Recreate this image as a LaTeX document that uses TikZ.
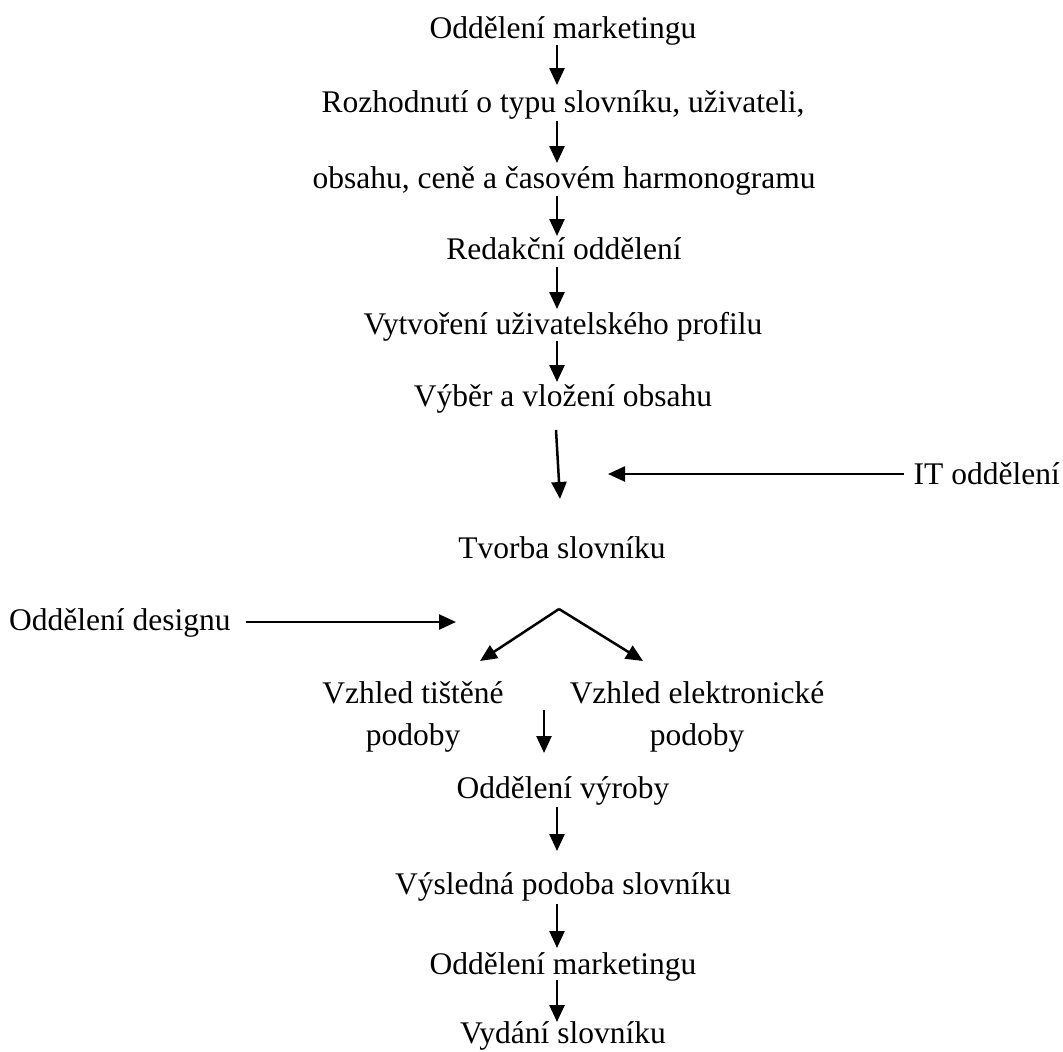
\documentclass[tikz,border=0pt]{standalone}
\usepackage{fontspec}
\setmainfont{Liberation Serif}
\usetikzlibrary{arrows.meta}
\begin{document}
\begin{tikzpicture}[x=1pt,y=-1pt,
  lbl/.style={inner sep=0pt,anchor=base,font=\fontsize{31.5}{38}\selectfont},
  arr/.style={line width=2.5pt,-{Triangle[length=17pt,width=15pt]}}]
\useasboundingbox (0,0) rectangle (1063,1052);
\node[lbl] (m1) at (563,38) {Oddělení marketingu};
\node[lbl] (r1) at (563,112) {Rozhodnutí o typu slovníku, uživateli,};
\node[lbl] (r2) at (564,188) {obsahu, ceně a časovém harmonogramu};
\node[lbl] (red) at (564,259) {Redakční oddělení};
\node[lbl] (vyt) at (563,334) {Vytvoření uživatelského profilu};
\node[lbl] (vyb) at (563,406) {Výběr a vložení obsahu};
\node[lbl,anchor=base east] (it) at (1060,484) {IT oddělení};
\node[lbl] (tv) at (562,558) {Tvorba slovníku};
\node[lbl,anchor=base west] (des) at (9,630) {Oddělení designu};
\node[lbl] (vt1) at (413,703) {Vzhled tištěné};
\node[lbl] (vt2) at (413,745) {podoby};
\node[lbl] (ve1) at (697,703) {Vzhled elektronické};
\node[lbl] (ve2) at (697,745) {podoby};
\node[lbl] (vyr) at (563,798) {Oddělení výroby};
\node[lbl] (vys) at (563,894) {Výsledná podoba slovníku};
\node[lbl] (m2) at (563,974) {Oddělení marketingu};
\node[lbl] (vyd) at (563,1043) {Vydání slovníku};
% connector endpoints
\coordinate (a1) at (557,45);  \coordinate (b1) at (557,85);
\coordinate (a2) at (557,121); \coordinate (b2) at (557,163);
\coordinate (a3) at (557,196); \coordinate (b3) at (557,236);
\coordinate (a4) at (557,267); \coordinate (b4) at (557,309);
\coordinate (a5) at (557,341); \coordinate (b5) at (557,382);
\coordinate (a6) at (556,430); \coordinate (b6) at (560,499);
\coordinate (ita) at (904,474); \coordinate (itb) at (608,474);
\coordinate (dsa) at (246,622); \coordinate (dsb) at (456,622);
\coordinate (apex) at (559,609);
\coordinate (lt) at (480,661); \coordinate (rt) at (643,661);
\coordinate (a7) at (544,710); \coordinate (b7) at (544,753);
\coordinate (a8) at (557,807); \coordinate (b8) at (557,851);
\coordinate (a9) at (557,904); \coordinate (b9) at (557,948);
\coordinate (a10) at (557,980); \coordinate (b10) at (557,1022);
\draw[arr] (a1) -- (b1);
\draw[arr] (a2) -- (b2);
\draw[arr] (a3) -- (b3);
\draw[arr] (a4) -- (b4);
\draw[arr] (a5) -- (b5);
\draw[arr] (a6) -- (b6);
\draw[arr] (ita) -- (itb);
\draw[arr] (dsa) -- (dsb);
\draw[arr] (apex) -- (lt);
\draw[arr] (apex) -- (rt);
\draw[arr] (a7) -- (b7);
\draw[arr] (a8) -- (b8);
\draw[arr] (a9) -- (b9);
\draw[arr] (a10) -- (b10);
\end{tikzpicture}
\end{document}
